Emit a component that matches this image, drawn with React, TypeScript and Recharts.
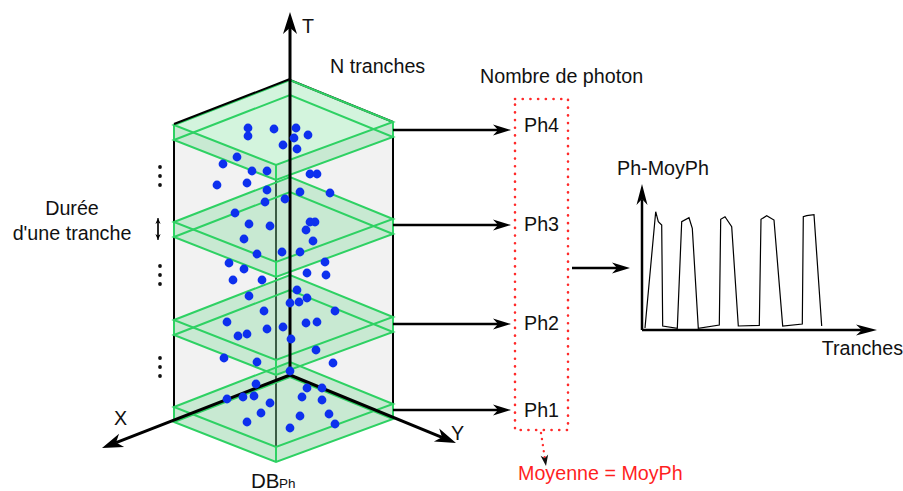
import React from 'react';
import { ComposedChart, Scatter, XAxis, YAxis } from 'recharts';

type P = { x: number; y: number };

// ---------- diagram data (x to the right, y downward, in px units of the 903x491 canvas) ----------
const sliceLevels = [125, 222, 320, 407]; // y of the left corner of each slice's top face
const sliceLabels = ['Ph4', 'Ph3', 'Ph2', 'Ph1'];
const sliceArrowY = [130, 225, 324, 410];
const sliceLabelY = [132, 231, 330, 417];

const prismLeftFace: P[] = [{ x: 174, y: 125 }, { x: 276, y: 165 }, { x: 276, y: 462 }, { x: 174, y: 422 }];
const prismRightFace: P[] = [{ x: 276, y: 165 }, { x: 393, y: 122 }, { x: 393, y: 419 }, { x: 276, y: 462 }];
const prismEdges: P[][] = [
  [{ x: 174, y: 125 }, { x: 174, y: 422 }],
  [{ x: 393, y: 122 }, { x: 393, y: 419 }],
  [{ x: 276, y: 165 }, { x: 276, y: 447 }],
  [{ x: 290, y: 80 }, { x: 393, y: 122 }],
];
const prismTopEdge: P[] = [{ x: 174, y: 124 }, { x: 290, y: 79 }];

const origin: P = { x: 290, y: 375 };
const axisTips: P[] = [{ x: 290, y: 12 }, { x: 102, y: 448 }, { x: 456, y: 443 }];

const photonDots: P[] = [
  { x: 248, y: 128 }, { x: 248, y: 136 }, { x: 274, y: 129 }, { x: 296, y: 128 }, { x: 294, y: 138 },
  { x: 308, y: 135 }, { x: 283, y: 145 }, { x: 297, y: 149 }, { x: 237, y: 157 }, { x: 223, y: 164 },
  { x: 252, y: 171 }, { x: 267, y: 171 }, { x: 310, y: 174 }, { x: 317, y: 174 }, { x: 217, y: 185 },
  { x: 247, y: 183 }, { x: 267, y: 190 }, { x: 300, y: 192 }, { x: 330, y: 193 }, { x: 265, y: 202 },
  { x: 285, y: 199 }, { x: 235, y: 213 }, { x: 310, y: 222 }, { x: 315, y: 222 }, { x: 249, y: 224 },
  { x: 270, y: 226 }, { x: 306, y: 230 }, { x: 313, y: 241 }, { x: 244, y: 239 }, { x: 257, y: 254 },
  { x: 282, y: 252 }, { x: 300, y: 252 }, { x: 229, y: 263 }, { x: 244, y: 269 }, { x: 325, y: 262 },
  { x: 307, y: 273 }, { x: 326, y: 275 }, { x: 233, y: 280 }, { x: 262, y: 280 }, { x: 297, y: 290 },
  { x: 307, y: 298 }, { x: 249, y: 296 }, { x: 290, y: 303 }, { x: 299, y: 302 }, { x: 264, y: 311 },
  { x: 335, y: 311 }, { x: 227, y: 322 }, { x: 283, y: 327 }, { x: 306, y: 323 }, { x: 317, y: 322 },
  { x: 267, y: 329 }, { x: 238, y: 336 }, { x: 247, y: 334 }, { x: 291, y: 339 }, { x: 316, y: 350 },
  { x: 224, y: 358 }, { x: 257, y: 362 }, { x: 333, y: 363 }, { x: 290, y: 371 }, { x: 256, y: 384 },
  { x: 307, y: 388 }, { x: 322, y: 388 }, { x: 227, y: 399 }, { x: 243, y: 397 }, { x: 254, y: 396 },
  { x: 270, y: 403 }, { x: 302, y: 397 }, { x: 322, y: 400 }, { x: 261, y: 413 }, { x: 247, y: 422 },
  { x: 300, y: 416 }, { x: 329, y: 414 }, { x: 335, y: 424 }, { x: 290, y: 428 },
];

const ellipsisDots: P[] = [
  { x: 160, y: 167 }, { x: 160, y: 176 }, { x: 160, y: 185 },
  { x: 160, y: 266 }, { x: 160, y: 275 }, { x: 160, y: 284 },
  { x: 160, y: 358 }, { x: 160, y: 367 }, { x: 160, y: 376 },
];

const durationArrow: P[] = [{ x: 158, y: 218 }, { x: 158, y: 240 }];

const photonBox: P[] = [{ x: 515, y: 99 }, { x: 568, y: 99 }, { x: 568, y: 430 }, { x: 515, y: 430 }];
const meanArrow: P[] = [{ x: 541, y: 433 }, { x: 546, y: 466 }];
const boxToPlotArrow: P[] = [{ x: 572, y: 268 }, { x: 630, y: 268 }];

const plotOrigin: P = { x: 642, y: 330 };
const plotTips: P[] = [{ x: 642, y: 184 }, { x: 877, y: 330 }];

const signalCurve: P[] = [
  { x: 645, y: 328 }, { x: 655.7, y: 211.7 }, { x: 658.3, y: 221.7 }, { x: 661.7, y: 225 }, { x: 662.7, y: 326 },
  { x: 677.3, y: 328.3 }, { x: 681.7, y: 221.7 }, { x: 689, y: 217.7 }, { x: 692.3, y: 228.3 }, { x: 698.3, y: 328.3 },
  { x: 719.3, y: 325 }, { x: 720.7, y: 219.3 }, { x: 725, y: 216.7 }, { x: 731.7, y: 226.7 }, { x: 738.3, y: 326 },
  { x: 759.3, y: 325.3 }, { x: 761, y: 219.3 }, { x: 766.7, y: 215.7 }, { x: 774, y: 220 }, { x: 782.7, y: 326 },
  { x: 802.3, y: 324 }, { x: 803.3, y: 216.7 }, { x: 806.7, y: 215.7 }, { x: 814, y: 214.7 }, { x: 821.7, y: 326 },
];

type T = { x: number; y: number; label: string; anchor?: string; size?: number; color?: string };
const textLabels: T[] = [
  { x: 302, y: 33, label: 'T' },
  { x: 330, y: 73, label: 'N tranches' },
  { x: 480, y: 83, label: 'Nombre de photon' },
  { x: 72, y: 215, label: 'Durée', anchor: 'middle' },
  { x: 72, y: 240, label: "d'une tranche", anchor: 'middle' },
  { x: 114, y: 425, label: 'X' },
  { x: 451, y: 440, label: 'Y' },
  { x: 617, y: 175, label: 'Ph-MoyPh' },
  { x: 903, y: 355, label: 'Tranches', anchor: 'end' },
  { x: 518, y: 480, label: 'Moyenne = MoyPh', color: '#ff1f1f' },
  { x: 251, y: 488, label: 'DB', size: 20.5 },
  { x: 279, y: 488, label: 'Ph', size: 13.5 },
];

// ---------- styles ----------
const FONT = '"Liberation Sans", Arial, sans-serif';
const GREEN = '#2ed163';
const GREEN_FILL = 'rgba(46, 204, 96, 0.21)';
const BLUE = '#0d30ee';
const GREY = '#f2f2f2';

// ---------- helpers ----------
const slabTop = (t: number): P[] => [{ x: 174, y: t }, { x: 290, y: t - 45 }, { x: 393, y: t - 3 }, { x: 276, y: t + 40 }];
const slabBottom = (t: number): P[] => slabTop(t).map((p) => ({ x: p.x, y: p.y + 15 }));
const slabHull = (t: number): P[] => [
  { x: 174, y: t }, { x: 290, y: t - 45 }, { x: 393, y: t - 3 }, { x: 393, y: t + 12 }, { x: 276, y: t + 55 }, { x: 174, y: t + 15 },
];

function head(from: P, tip: P, len: number, half: number): { shaft: P[]; head: P[] } {
  const dx = tip.x - from.x;
  const dy = tip.y - from.y;
  const l = Math.hypot(dx, dy);
  const ux = dx / l;
  const uy = dy / l;
  const nx = -uy;
  const ny = ux;
  const bx = tip.x - ux * len;
  const by = tip.y - uy * len;
  const notch = { x: tip.x - ux * len * 0.72, y: tip.y - uy * len * 0.72 };
  return {
    shaft: [from, notch],
    head: [tip, { x: bx + nx * half, y: by + ny * half }, notch, { x: bx - nx * half, y: by - ny * half }],
  };
}

const noShape = () => <g />;
let keyN = 0;

function shape(points: P[], opts: { fill?: string; stroke?: string; sw?: number; closed?: boolean; dash?: string; cap?: string }) {
  const { fill = 'none', stroke = 'none', sw = 1, closed = true, dash, cap = 'butt' } = opts;
  const render = (props: any) => {
    const pts = (props.points || []) as P[];
    const d = pts.map((p, i) => `${i ? 'L' : 'M'}${p.x},${p.y}`).join(' ') + (closed ? ' Z' : '');
    return (
      <path
        d={d}
        fill={fill}
        stroke={stroke}
        strokeWidth={sw}
        strokeDasharray={dash}
        strokeLinejoin="miter"
        strokeLinecap={cap as any}
      />
    );
  };
  keyN += 1;
  return (
    <Scatter
      key={`s${keyN}`}
      data={points}
      line={render}
      lineType="joint"
      shape={noShape}
      isAnimationActive={false}
      legendType="none"
    />
  );
}

function arrow(from: P, tip: P, w: number, len: number, half: number, color = '#000', dash?: string, headColor?: string) {
  const a = head(from, tip, len, half);
  return [
    shape(a.shaft, { stroke: color, sw: w, closed: false, dash, cap: dash ? 'round' : 'butt' }),
    shape(a.head, { fill: headColor || color }),
  ];
}

function dots(points: P[], r: number, color: string) {
  keyN += 1;
  return (
    <Scatter
      key={`d${keyN}`}
      data={points}
      isAnimationActive={false}
      legendType="none"
      shape={(p: any) => <circle cx={p.cx} cy={p.cy} r={r} fill={color} />}
    />
  );
}

function texts(items: T[]) {
  keyN += 1;
  return (
    <Scatter
      key={`t${keyN}`}
      data={items}
      isAnimationActive={false}
      legendType="none"
      shape={(p: any) => {
        const it = p.payload as T;
        return (
          <text
            x={p.cx}
            y={p.cy}
            textAnchor={(it.anchor as any) || 'start'}
            fontFamily={FONT}
            fontSize={it.size || 19.7}
            fill={it.color || '#111'}
          >
            {it.label}
          </text>
        );
      }}
    />
  );
}

export default function App() {
  keyN = 0;
  const sliceTexts: T[] = sliceLabels.map((l, i) => ({ x: 524, y: sliceLabelY[i], label: l }));
  return (
    <div style={{ position: 'absolute', left: 0, top: 0, width: 903, height: 491, background: '#fff' }}>
      <ComposedChart width={903} height={491} margin={{ top: 0, right: 0, bottom: 0, left: 0 }}>
        <XAxis dataKey="x" type="number" domain={[0, 903]} hide allowDataOverflow />
        <YAxis dataKey="y" type="number" domain={[0, 491]} reversed hide allowDataOverflow />

        {/* prism side faces */}
        {shape(prismLeftFace, { fill: GREY })}
        {shape(prismRightFace, { fill: GREY })}
        {prismEdges.map((e, i) => shape(e, { stroke: '#000', sw: i === 2 ? 1.5 : 2, closed: false }))}

        {/* slices */}
        {sliceLevels.map((t) => shape(slabHull(t), { fill: GREEN_FILL }))}
        {sliceLevels.map((t) => shape(slabBottom(t), { stroke: GREEN, sw: 2 }))}
        {sliceLevels.map((t) => shape(slabTop(t), { stroke: GREEN, sw: 2 }))}
        {sliceLevels.map((t) =>
          [174, 276, 393].map((x) => {
            const top = slabTop(t).find((p) => p.x === x) as P;
            return shape([top, { x, y: top.y + 15 }], { stroke: GREEN, sw: 2, closed: false });
          }),
        )}
        {shape(prismTopEdge, { stroke: '#000', sw: 2, closed: false })}

        {/* T, X, Y axes */}
        {arrow(origin, axisTips[0], 3, 22, 7)}
        {arrow(origin, axisTips[1], 3, 21, 7)}
        {arrow(origin, axisTips[2], 3, 21, 7)}

        {/* photons */}
        {dots(photonDots, 4.4, BLUE)}

        {/* left annotations */}
        {dots(ellipsisDots, 1.9, '#111')}
        {arrow(durationArrow[1], durationArrow[0], 1.2, 6, 2.6)}
        {arrow(durationArrow[0], durationArrow[1], 1.2, 6, 2.6)}

        {/* slice -> photon count arrows */}
        {sliceArrowY.map((y) => arrow({ x: 393, y }, { x: 511, y }, 2.5, 18, 5.5))}

        {/* photon count box */}
        {shape(photonBox, { stroke: '#ff2a2a', sw: 2.6, dash: '0.1 7.6', cap: 'round' })}
        {arrow(meanArrow[0], meanArrow[1], 2.4, 11, 3.8, '#ff2a2a', '0.1 6', '#111')}

        {/* box -> plot arrow */}
        {arrow(boxToPlotArrow[0], boxToPlotArrow[1], 2.5, 18, 5.5)}

        {/* small plot */}
        {arrow(plotOrigin, plotTips[0], 2.5, 21, 5.5)}
        {arrow(plotOrigin, plotTips[1], 2.5, 21, 5.5)}
        {shape(signalCurve, { stroke: '#000', sw: 1.2, closed: false })}

        {texts(textLabels)}
        {texts(sliceTexts)}
      </ComposedChart>
    </div>
  );
}
